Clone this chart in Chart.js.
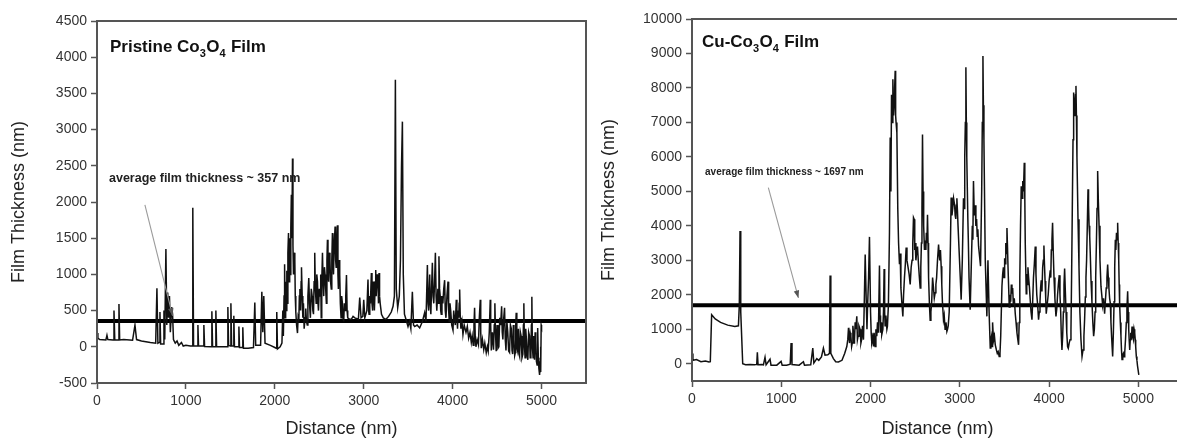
<!DOCTYPE html>
<html><head><meta charset="utf-8">
<script src="https://cdn.jsdelivr.net/npm/chart.js@4.4.1/dist/chart.umd.min.js"></script>
<style>
html,body{margin:0;padding:0;background:#fff;overflow:hidden;width:1177px;height:439px;}
#wrapL{position:absolute;left:0;top:0;width:590px;height:439px;}
#wrapR{position:absolute;left:590px;top:0;width:600px;height:439px;}
</style></head><body>
<div id="wrapL"><canvas id="cL" width="590" height="439"></canvas></div>
<div id="wrapR"><canvas id="cR" width="600" height="439"></canvas></div>
<script>
// ---- data: [distance (nm), film thickness (nm)] ----
const pristineProfile = [
[0,190],[10,120],[30,100],[100,95],[112,160],[122,100],[180,95],[191,500],[200,95],[240,95],[247,590],[255,95],
[300,100],[400,90],[427,300],[445,100],[500,80],[600,60],[660,50],[674,810],[685,50],[700,60],[708,480],[716,40],
[745,40],[753,500],[762,100],[775,1350],[785,300],[795,750],[805,400],[815,700],[825,200],[840,550],[850,450],
[860,100],[880,50],[900,80],[920,20],[950,60],[970,10],[1000,20],[1050,10],[1072,10],[1076,1240],[1079,1920],[1086,10],
[1130,10],[1135,300],[1142,10],[1195,10],[1202,300],[1210,5],[1285,0],[1292,490],[1300,0],[1330,0],[1337,500],
[1345,0],[1400,0],[1465,0],[1472,550],[1480,20],[1500,10],[1506,600],[1514,10],[1532,10],[1539,430],[1546,0],
[1590,0],[1596,280],[1603,-10],[1634,-10],[1640,270],[1647,-20],[1700,-20],[1760,-10],[1775,610],[1785,20],
[1840,20],[1854,760],[1865,200],[1876,700],[1890,50],[1950,20],[2000,-10],[2015,-20],[2022,480],[2030,-30],
[2060,0],[2080,50],[2090,500],[2096,150],[2104,700],[2110,1140],[2116,400],[2122,900],[2128,500],[2135,1050],
[2140,600],[2147,1300],[2154,1570],[2160,900],[2167,1500],[2173,1000],[2180,1650],[2186,2100],[2192,1500],
[2199,2600],[2204,1400],[2210,1000],[2217,1300],[2225,1200],[2230,700],[2236,480],[2245,300],[2255,190],
[2262,400],[2270,350],[2276,700],[2282,800],[2290,500],[2296,900],[2300,1100],[2308,700],[2315,400],[2322,600],
[2330,250],[2340,400],[2348,530],[2356,350],[2365,300],[2372,700],[2382,950],[2390,600],[2400,400],[2410,800],
[2420,700],[2428,500],[2435,450],[2442,900],[2449,1300],[2456,800],[2465,600],[2472,1000],[2480,900],[2486,600],
[2491,500],[2500,800],[2510,700],[2516,1000],[2522,400],[2528,900],[2536,1300],[2543,900],[2550,700],[2558,1100],
[2565,1000],[2572,800],[2580,600],[2586,1200],[2592,1480],[2598,1000],[2605,900],[2612,1300],[2620,1200],
[2627,900],[2635,800],[2641,1200],[2648,1570],[2654,1200],[2660,1000],[2668,1400],[2678,1660],[2684,1200],
[2690,1100],[2697,1400],[2704,1680],[2710,1000],[2715,800],[2722,1200],[2730,1000],[2737,600],[2745,400],
[2752,700],[2760,600],[2767,400],[2775,350],[2782,600],[2790,500],[2798,700],[2806,990],[2813,500],[2820,400],
[2843,380],[2860,380],[2880,420],[2900,400],[2940,380],[2955,680],[2970,400],[2990,420],[3000,650],[3012,400],
[3035,500],[3048,930],[3055,500],[3060,450],[3068,700],[3075,600],[3086,1020],[3093,600],[3100,500],[3108,900],
[3115,800],[3120,500],[3125,500],[3130,900],[3135,1060],[3140,700],[3145,700],[3152,1000],[3160,900],[3166,600],
[3172,1020],[3178,700],[3185,600],[3200,450],[3220,400],[3250,380],[3280,420],[3310,480],[3330,560],[3345,700],
[3356,3690],[3366,800],[3382,540],[3400,700],[3413,1200],[3425,2500],[3435,3110],[3445,1000],[3458,450],
[3475,380],[3498,280],[3515,350],[3530,250],[3547,760],[3560,300],[3573,280],[3600,300],[3629,260],[3660,350],
[3685,470],[3700,350],[3716,1130],[3723,600],[3730,500],[3742,1000],[3748,600],[3755,450],[3763,800],[3772,1160],
[3780,700],[3788,600],[3797,900],[3806,1300],[3814,700],[3822,500],[3834,800],[3840,600],[3846,1250],[3853,800],
[3860,700],[3866,500],[3872,450],[3880,700],[3890,600],[3900,800],[3910,920],[3917,500],[3925,400],[3936,700],
[3948,900],[3955,500],[3962,350],[3970,600],[3978,500],[3990,300],[4004,230],[4012,500],[4020,400],[4030,300],
[4041,650],[4048,400],[4055,250],[4062,500],[4068,400],[4074,600],[4079,790],[4086,400],[4093,250],[4105,350],
[4116,170],[4130,300],[4150,200],[4165,280],[4180,120],[4195,200],[4210,60],[4220,150],[4232,20],[4240,300],
[4247,540],[4255,100],[4262,0],[4275,100],[4290,30],[4300,400],[4311,650],[4316,200],[4322,-20],[4335,100],
[4350,-40],[4362,50],[4378,-80],[4390,0],[4400,-60],[4412,200],[4423,650],[4428,300],[4435,-50],[4447,200],
[4460,-40],[4468,300],[4475,600],[4482,200],[4490,-60],[4500,300],[4510,-20],[4520,0],[4530,400],[4540,300],
[4551,560],[4558,200],[4565,100],[4575,400],[4584,540],[4592,100],[4600,-50],[4610,350],[4620,200],[4630,-60],
[4640,-80],[4650,300],[4660,250],[4668,-50],[4675,-100],[4683,300],[4690,100],[4698,-120],[4705,-80],[4710,300],
[4715,470],[4722,0],[4730,-50],[4740,250],[4747,-100],[4753,-130],[4762,200],[4770,150],[4780,-150],[4790,-100],
[4796,300],[4801,600],[4808,0],[4815,-150],[4822,250],[4830,100],[4838,-120],[4846,-180],[4855,200],[4865,150],
[4872,-150],[4880,-100],[4886,300],[4891,690],[4897,0],[4905,-150],[4912,150],[4921,-180],[4928,200],[4935,100],
[4942,-200],[4950,-250],[4955,100],[4958,260],[4964,-150],[4970,-300],[4978,-390],[4984,-200],[4988,0],
[4993,-350],[4996,300],[5000,280]
];
const cuProfile = [
[0,300],[10,100],[50,120],[100,60],[150,80],[190,50],[205,60],[220,1420],[260,1300],[320,1200],[400,1120],[480,1080],
[520,1100],[530,1700],[538,3850],[546,1500],[568,0],[600,-30],[650,-20],[700,-30],[725,-20],[732,330],[740,-30],
[780,-20],[800,-30],[818,190],[830,-30],[874,130],[885,-40],[950,-40],[998,70],[1010,-40],[1060,-40],[1100,-10],
[1110,600],[1120,-20],[1200,-40],[1248,60],[1260,-40],[1330,-30],[1353,455],[1365,20],[1398,150],[1420,100],
[1450,200],[1472,455],[1490,250],[1521,260],[1540,300],[1547,2560],[1555,300],[1584,150],[1610,60],[1640,50],
[1680,100],[1710,300],[1734,500],[1745,700],[1753,1040],[1765,600],[1772,900],[1780,800],[1788,500],[1795,600],
[1802,1100],[1809,900],[1815,600],[1820,700],[1828,1200],[1835,1000],[1846,1375],[1853,700],[1860,800],
[1870,1100],[1883,1000],[1892,600],[1900,700],[1910,1100],[1921,700],[1930,1800],[1940,3170],[1952,1800],
[1960,1000],[1966,1600],[1978,2500],[1988,3680],[2000,1500],[2007,900],[2014,610],[2025,750],[2033,500],
[2040,900],[2051,500],[2060,1000],[2070,800],[2078,1200],[2088,900],[2100,2850],[2106,1400],[2112,900],
[2120,1200],[2126,850],[2138,1000],[2145,1500],[2152,2750],[2158,1500],[2163,1100],[2172,1400],[2183,1000],
[2189,1080],[2200,1700],[2212,3800],[2220,6560],[2228,5000],[2235,7800],[2242,7000],[2250,8250],[2258,7200],
[2265,7500],[2270,8000],[2276,8500],[2281,7200],[2286,7000],[2295,6700],[2305,4500],[2314,3500],[2324,2890],
[2332,3200],[2340,2200],[2350,1800],[2362,1375],[2370,2000],[2380,2500],[2390,2900],[2399,3370],[2408,3000],
[2420,2800],[2432,2600],[2444,2300],[2455,2800],[2465,3000],[2473,3500],[2481,4240],[2489,4190],[2495,3300],
[2500,3500],[2508,3000],[2515,3200],[2526,3400],[2537,2890],[2547,2500],[2556,2200],[2563,2800],[2570,3500],
[2576,4500],[2582,6650],[2588,5000],[2595,4000],[2604,3300],[2612,3570],[2620,3300],[2625,3800],[2632,3500],
[2638,4320],[2644,3500],[2650,2500],[2660,1700],[2668,1260],[2676,1500],[2685,1800],[2695,2500],[2705,2200],
[2714,1900],[2724,2060],[2732,2300],[2740,2500],[2750,3000],[2762,3460],[2768,3200],[2775,3000],[2783,3300],
[2791,2830],[2798,2300],[2805,1800],[2817,1280],[2825,1400],[2835,1000],[2845,1200],[2855,940],[2862,1000],
[2870,1100],[2881,1500],[2895,3500],[2903,4820],[2912,4300],[2920,4500],[2930,4800],[2941,4620],[2948,4300],
[2955,4200],[2961,4600],[2967,4800],[2974,4400],[2980,4000],[2993,3220],[3005,2500],[3015,1860],[3028,3000],
[3041,4800],[3048,4500],[3055,6000],[3062,7000],[3068,8600],[3073,7000],[3078,6000],[3090,4190],[3096,3500],
[3103,2500],[3116,1570],[3130,3000],[3140,4000],[3146,3600],[3153,5300],[3160,4500],[3165,4300],[3172,4600],
[3180,4000],[3188,4200],[3195,3700],[3202,3900],[3210,3410],[3222,3100],[3232,2830],[3245,5000],[3252,7000],
[3259,8930],[3264,7500],[3270,6500],[3285,3020],[3303,1375],[3315,3000],[3328,1500],[3341,455],[3348,700],
[3355,800],[3361,500],[3367,1200],[3373,900],[3380,700],[3388,800],[3397,550],[3410,400],[3420,300],[3430,350],
[3441,213],[3450,300],[3458,800],[3472,2250],[3480,2600],[3488,2800],[3495,2500],[3502,3060],[3508,2900],
[3515,3500],[3521,3200],[3528,3940],[3534,3400],[3540,2800],[3554,1650],[3562,2000],[3570,1800],[3577,2300],
[3584,2030],[3592,2200],[3600,1700],[3610,1900],[3621,1450],[3630,1200],[3640,900],[3650,700],[3658,550],
[3665,1200],[3672,2500],[3680,4000],[3688,5150],[3697,4800],[3705,5300],[3713,5000],[3722,5830],[3728,4800],
[3733,3500],[3744,2030],[3750,2600],[3757,2300],[3763,2800],[3770,2520],[3780,2200],[3790,1800],[3798,1500],
[3808,1280],[3816,1800],[3825,2500],[3835,2900],[3845,3400],[3853,2600],[3862,2000],[3872,1700],[3882,1280],
[3890,1500],[3898,1800],[3905,2200],[3912,2420],[3920,2100],[3928,2800],[3935,3000],[3942,3430],[3948,2900],
[3955,2400],[3962,1900],[3968,1450],[3978,1700],[3990,2000],[4000,2400],[4013,2710],[4019,2500],[4025,3300],
[4032,3600],[4039,4090],[4046,3300],[4055,2500],[4065,1900],[4077,1370],[4086,1600],[4095,2000],[4104,2300],
[4114,2570],[4122,2000],[4130,1500],[4137,800],[4144,400],[4152,800],[4160,1500],[4167,2300],[4174,2760],
[4182,2100],[4190,1500],[4198,900],[4207,500],[4215,450],[4225,600],[4235,700],[4245,990],[4252,2500],
[4260,4500],[4268,6500],[4275,7870],[4283,7200],[4290,7500],[4296,7800],[4301,8060],[4306,7200],[4312,6000],
[4324,4190],[4335,2800],[4345,1500],[4357,700],[4369,213],[4380,400],[4390,800],[4398,1300],[4406,1940],
[4413,2500],[4420,3000],[4428,4000],[4436,5060],[4442,4600],[4448,4000],[4455,3700],[4461,3220],[4470,2400],
[4480,1800],[4490,1200],[4499,800],[4507,1000],[4515,1500],[4522,2500],[4530,3500],[4537,4500],[4544,5590],
[4552,4700],[4560,4000],[4570,3000],[4581,2250],[4590,2000],[4600,1700],[4610,1900],[4622,1450],[4630,1800],
[4640,2200],[4648,2500],[4656,2880],[4663,2500],[4670,2200],[4678,1900],[4686,1750],[4693,1200],[4700,800],
[4706,500],[4712,213],[4720,900],[4728,1800],[4735,2800],[4742,3600],[4748,3300],[4755,3800],[4762,3600],
[4768,4090],[4774,3500],[4780,3000],[4785,2300],[4790,1750],[4798,1200],[4805,800],[4811,400],[4817,120],
[4825,250],[4832,300],[4840,200],[4847,310],[4856,700],[4865,1200],[4872,1600],[4880,2100],[4886,1500],
[4892,1000],[4897,700],[4903,400],[4909,700],[4915,900],[4922,700],[4929,1080],[4936,800],[4945,700],
[4952,1000],[4959,900],[4965,700],[4970,500],[4977,213],[4984,100],[4990,-50],[5005,-320]
];
const pristineAvg = 357;
const cuAvg = 1697;
const distanceTicks = [0, 1000, 2000, 3000, 4000, 5000];
const pristineThicknessTicks = [-500, 0, 500, 1000, 1500, 2000, 2500, 3000, 3500, 4000, 4500];
const cuThicknessTicks = [0, 1000, 2000, 3000, 4000, 5000, 6000, 7000, 8000, 9000, 10000];
const pristineTitle = [["Pristine Co", 0], ["3", 1], ["O", 0], ["4", 1], [" Film", 0]];
const cuTitle = [["Cu-Co", 0], ["3", 1], ["O", 0], ["4", 1], [" Film", 0]];
const pristineNote = "average film thickness ~ 357 nm";
const cuNote = "average film thickness ~ 1697 nm";

const FONT = '"Liberation Sans", Arial, Helvetica, sans-serif';

function drawParts(ctx, parts, x, y, size) {
  let cx = x;
  for (const [t, sub] of parts) {
    const s = sub ? Math.round(size * 0.62) : size;
    ctx.font = `bold ${s}px ${FONT}`;
    ctx.fillText(t, cx, sub ? y + size * 0.3 : y);
    cx += ctx.measureText(t).width + (sub ? 0.5 : 0);
  }
}

function decorPlugin(cfg) {
  return {
    id: 'decor',
    afterDatasetsDraw(chart) {
      const { ctx, chartArea: a, scales: { x, y } } = chart;
      ctx.save();
      ctx.strokeStyle = '#555';
      ctx.lineWidth = 2;
      ctx.strokeRect(a.left, a.top, a.right - a.left, a.bottom - a.top);
      ctx.fillStyle = '#111';
      ctx.textBaseline = 'alphabetic';
      ctx.textAlign = 'left';
      drawParts(ctx, cfg.title, x.getPixelForValue(cfg.titleAt[0]), y.getPixelForValue(cfg.titleAt[1]), cfg.titleSize);
      ctx.font = `bold ${cfg.noteSize}px ${FONT}`;
      ctx.fillStyle = '#222';
      ctx.fillText(cfg.note, x.getPixelForValue(cfg.noteAt[0]), y.getPixelForValue(cfg.noteAt[1]));
      const x0 = x.getPixelForValue(cfg.arrow[0]), y0 = y.getPixelForValue(cfg.arrow[1]);
      const x1 = x.getPixelForValue(cfg.arrow[2]), y1 = y.getPixelForValue(cfg.arrow[3]);
      ctx.strokeStyle = '#9a9a9a';
      ctx.lineWidth = 1.1;
      ctx.beginPath(); ctx.moveTo(x0, y0); ctx.lineTo(x1, y1); ctx.stroke();
      const ang = Math.atan2(y1 - y0, x1 - x0), L = 8, W = 0.35;
      ctx.fillStyle = '#555';
      ctx.beginPath();
      ctx.moveTo(x1, y1);
      ctx.lineTo(x1 - L * Math.cos(ang - W), y1 - L * Math.sin(ang - W));
      ctx.lineTo(x1 - L * Math.cos(ang + W), y1 - L * Math.sin(ang + W));
      ctx.closePath(); ctx.fill();
      ctx.restore();
    }
  };
}

function makeChart(id, profile, avg, yMin, yMax, yTicks, yWidth, xHeight, pad, deco) {
  const ctx = document.getElementById(id);
  return new Chart(ctx, {
    type: 'line',
    data: {
      datasets: [
        { data: profile.map(p => ({ x: p[0], y: p[1] })), borderColor: '#111', borderWidth: 1.5, pointRadius: 0, tension: 0, fill: false },
        { data: [{ x: 0, y: avg }, { x: 5500, y: avg }], borderColor: '#000', borderWidth: 4, pointRadius: 0, fill: false }
      ]
    },
    options: {
      responsive: false,
      animation: false,
      devicePixelRatio: 1,
      layout: { padding: pad },
      plugins: { legend: { display: false }, tooltip: { enabled: false } },
      scales: {
        x: {
          type: 'linear', min: 0, max: 5500,
          afterBuildTicks: s => { s.ticks = distanceTicks.map(v => ({ value: v })); },
          afterFit: s => { s.height = xHeight; },
          grid: { drawOnChartArea: false, drawTicks: true, tickLength: 6, tickColor: '#555', tickWidth: 1.5 },
          border: { display: true, color: '#555', width: 2 },
          ticks: { font: { family: FONT, size: 14 }, color: '#333', padding: 4, maxRotation: 0, autoSkip: false, callback: v => String(v) },
          title: { display: true, text: 'Distance (nm)', font: { family: FONT, size: 18, lineHeight: 1.1 }, color: '#222', padding: { top: 0, bottom: 0 } }
        },
        y: {
          type: 'linear', min: yMin, max: yMax,
          afterBuildTicks: s => { s.ticks = yTicks.map(v => ({ value: v })); },
          afterFit: s => { s.width = yWidth; },
          grid: { drawOnChartArea: false, drawTicks: true, tickLength: 6, tickColor: '#555', tickWidth: 1.5 },
          border: { display: true, color: '#555', width: 2 },
          ticks: { font: { family: FONT, size: 14 }, color: '#333', padding: 4, autoSkip: false, callback: v => String(v) },
          title: { display: true, text: 'Film Thickness (nm)', font: { family: FONT, size: 18, lineHeight: 1.2 }, color: '#222', padding: { top: 8, bottom: 0 } }
        }
      }
    },
    plugins: [decorPlugin(deco)]
  });
}

makeChart('cL', pristineProfile, pristineAvg, -500, 4500, pristineThicknessTicks, 97, 56,
  { left: 0, top: 21, right: 4, bottom: 0 },
  { title: pristineTitle, titleAt: [146, 4071], titleSize: 17, note: pristineNote, noteAt: [135, 2277], noteSize: 12.5, arrow: [539, 1960, 850, 430] });

makeChart('cR', cuProfile, cuAvg, -500, 10000, cuThicknessTicks, 102, 58,
  { left: 0, top: 19, right: 7, bottom: 0 },
  { title: cuTitle, titleAt: [112, 9186], titleSize: 17, note: cuNote, noteAt: [146, 5465], noteSize: 10, arrow: [855, 5108, 1192, 1910] });
</script>
</body></html>
